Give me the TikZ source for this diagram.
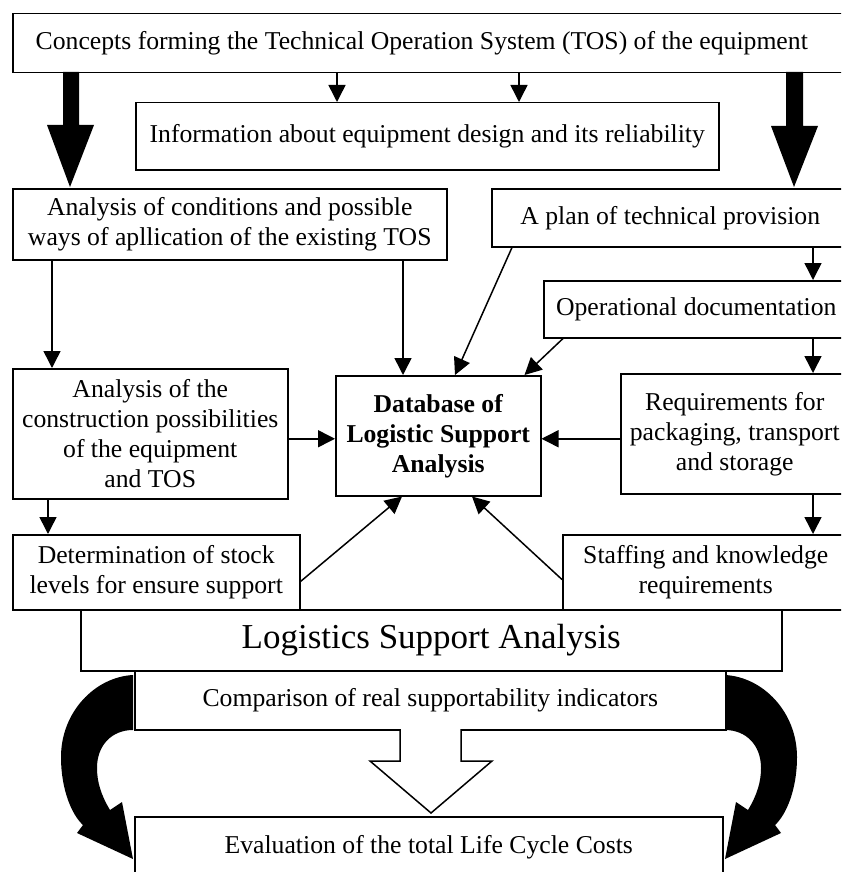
\documentclass[tikz,border=0pt]{standalone}
\usepackage{fontspec}
\setmainfont{Liberation Serif}
\usetikzlibrary{arrows.meta,calc}
\tikzset{
  box/.style={draw, line width=1.5pt, fill=white, inner sep=0pt, align=center,
    anchor=north west, font=\fontsize{25.7}{30}\selectfont},
  arr/.style={line width=1.5pt, -{Triangle[length=17pt,width=17pt]}},
  bigarrow/.style={fill=black, draw=none},
  hollow/.style={draw, line width=1.5pt, fill=white, line join=miter}
}
\begin{document}
\begin{tikzpicture}[x=1pt,y=-1pt]
\useasboundingbox (0,0) rectangle (841,872);
\clip (0,0) rectangle (841,872);
\fill[white] (0,0) rectangle (841,872);

% curved black arrows (behind boxes)
\fill[black] (133,675) .. controls (95,677) and (61,712) .. (61,757)
  .. controls (61,790) and (72,815) .. (83,825) -- (77,833) -- (133,859) -- (122,802) -- (110,810)
  .. controls (101,795) and (97,782) .. (97,768)
  .. controls (97,745) and (112,730) .. (133,730) -- cycle;
\fill[black] (725,675) .. controls (763,677) and (797,712) .. (797,757)
  .. controls (797,790) and (786,815) .. (775,825) -- (781,833) -- (725,859) -- (736,802) -- (748,810)
  .. controls (757,795) and (761,782) .. (761,768)
  .. controls (761,745) and (746,730) .. (725,730) -- cycle;

% boxes
\node[box, minimum width=836, minimum height=59] (top) at (12,13)
  {Concepts forming the Technical Operation System (TOS) of the equipment\hspace*{18pt}};
\node[box, minimum width=583, minimum height=67] (info) at (135,102)
  {Information about equipment design and its reliability};
\node[box, minimum width=434, minimum height=71] (anal) at (12,188)
  {Analysis of conditions and possible\\ways of apllication of the existing TOS};
\node[box, minimum width=357, minimum height=58] (plan) at (491,188)
  {A plan of technical provision};
\node[box, minimum width=305, minimum height=57] (opdoc) at (543,280)
  {Operational documentation};
\node[box, minimum width=275, minimum height=130] (constr) at (12,368)
  {Analysis of the\\construction possibilities\\of the equipment\\and TOS};
\node[box, minimum width=205, minimum height=120, font=\fontsize{25.7}{30}\selectfont\bfseries] (db) at (335,375)
  {Database of\\Logistic Support\\Analysis};
\node[box, minimum width=228, minimum height=120] (req) at (620,373)
  {Requirements for\\packaging, transport\\and storage};
\node[box, minimum width=287, minimum height=75] (det) at (12,534)
  {Determination of stock\\levels for ensure support};
\node[box, minimum width=286, minimum height=75] (staff) at (562,534)
  {Staffing and knowledge\\requirements};
\node[box, minimum width=701, minimum height=61, font=\fontsize{35}{40}\selectfont] (lsa) at (80,609)
  {Logistics Support Analysis};
\node[box, minimum width=591, minimum height=59] (comp) at (134,670)
  {Comparison of real supportability indicators};
\node[box, minimum width=588, minimum height=60] (eval) at (134,816)
  {Evaluation of the total Life Cycle Costs};

% big black arrows from the top box
\fill[black] (63,72) -- (79,72) -- (79,125) -- (94,125) -- (70,187) -- (47,125) -- (63,125) -- cycle;
\fill[black] (786,72) -- (803,72) -- (803,126) -- (818,126) -- (794,187) -- (771,126) -- (786,126) -- cycle;

% hollow arrow
\draw[hollow] (400,729) -- (400,761) -- (370,761) -- (431,813) -- (492,761) -- (461,761) -- (461,729);

% coordinates on box edges
\coordinate (i1) at ($(info.north west)+(202,0)$);
\coordinate (i2) at ($(info.north west)+(384,0)$);
\coordinate (c1) at ($(constr.north west)+(40,0)$);
\coordinate (d1) at ($(db.north west)+(68,0)$);
\coordinate (rx) at (813,0);
\coordinate (cx) at (48,0);

\draw[arr] (i1 |- top.south) -- (i1);
\draw[arr] (i2 |- top.south) -- (i2);
\draw[arr] (c1 |- anal.south) -- (c1);
\draw[arr] (d1 |- anal.south) -- (d1);
\draw[arr] (rx |- plan.south) -- (rx |- opdoc.north);
\draw[arr] (rx |- opdoc.south) -- (rx |- req.north);
\draw[arr] (rx |- req.south) -- (rx |- staff.north);
\draw[arr] (cx |- constr.south) -- (cx |- det.north);
\draw[arr] ($(db.west -| constr.east)+(0,3)$) -- ($(db.west)+(0,3)$);
\draw[arr] ($(db.east -| req.west)+(0,3)$) -- ($(db.east)+(0,3)$);
\draw[arr] ($(plan.south west)+(21,0)$) -- ($(db.north west)+(120,0)$);
\draw[arr] ($(opdoc.south west)+(20,0)$) -- ($(db.north east)+(-17,0)$);
\draw[arr] ($(det.south east)+(0,-29)$) -- ($(db.south west)+(67,0)$);
\draw[arr] ($(staff.south west)+(0,-31)$) -- ($(db.south west)+(137,0)$);
\end{tikzpicture}
\end{document}
